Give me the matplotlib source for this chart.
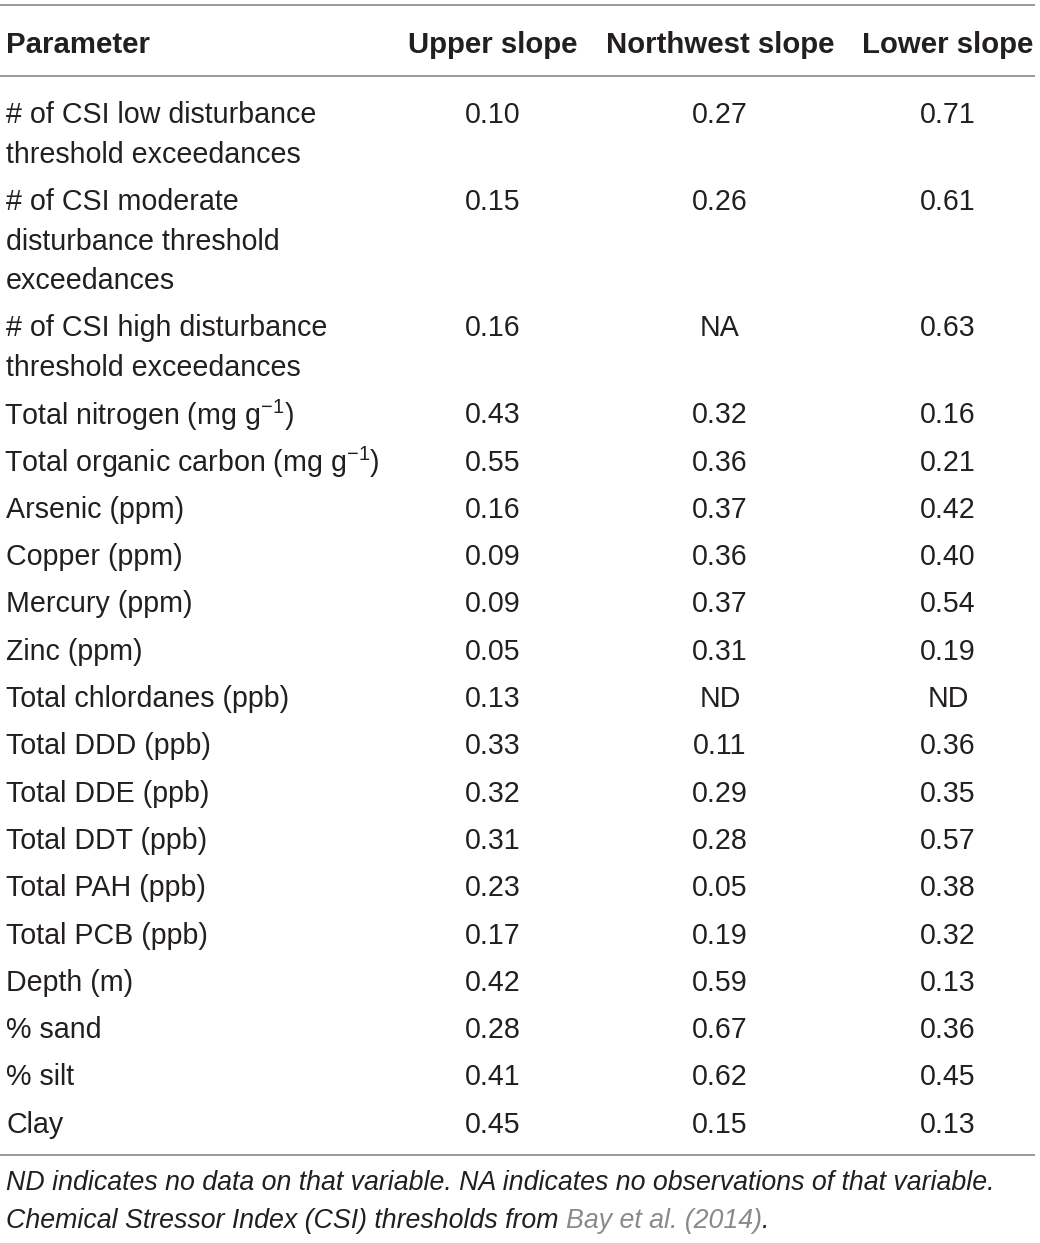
import matplotlib
matplotlib.use("Agg")
import matplotlib.pyplot as plt

plt.rcParams['font.family'] = ['Liberation Sans', 'DejaVu Sans']
plt.rcParams['mathtext.fontset'] = 'custom'
plt.rcParams['mathtext.rm'] = 'Liberation Sans'
plt.rcParams['mathtext.it'] = 'Liberation Sans:italic'

columns = ["Parameter", "Upper slope", "Northwest slope", "Lower slope"]

parameters = [
    ["# of CSI low disturbance", "threshold exceedances"],
    ["# of CSI moderate", "disturbance threshold", "exceedances"],
    ["# of CSI high disturbance", "threshold exceedances"],
    [r"Total nitrogen (mg g$^{-1}$)"],
    [r"Total organic carbon (mg g$^{-1}$)"],
    ["Arsenic (ppm)"],
    ["Copper (ppm)"],
    ["Mercury (ppm)"],
    ["Zinc (ppm)"],
    ["Total chlordanes (ppb)"],
    ["Total DDD (ppb)"],
    ["Total DDE (ppb)"],
    ["Total DDT (ppb)"],
    ["Total PAH (ppb)"],
    ["Total PCB (ppb)"],
    ["Depth (m)"],
    ["% sand"],
    ["% silt"],
    ["Clay"],
]

upper_slope = ["0.10", "0.15", "0.16", "0.43", "0.55", "0.16", "0.09", "0.09", "0.05",
               "0.13", "0.33", "0.32", "0.31", "0.23", "0.17", "0.42", "0.28", "0.41", "0.45"]
northwest_slope = ["0.27", "0.26", "NA", "0.32", "0.36", "0.37", "0.36", "0.37", "0.31",
                   "ND", "0.11", "0.29", "0.28", "0.05", "0.19", "0.59", "0.67", "0.62", "0.15"]
lower_slope = ["0.71", "0.61", "0.63", "0.16", "0.21", "0.42", "0.40", "0.54", "0.19",
               "ND", "0.36", "0.35", "0.57", "0.38", "0.32", "0.13", "0.36", "0.45", "0.13"]

footnote_1 = "ND indicates no data on that variable. NA indicates no observations of that variable."
footnote_2 = "Chemical Stressor Index (CSI) thresholds from "
footnote_ref = "Bay et al. (2014)"
footnote_end = "."

W, H = 1040, 1243
fig = plt.figure(figsize=(W / 100, H / 100), dpi=100)
ax = fig.add_axes([0, 0, 1, 1])
ax.set_xlim(0, W)
ax.set_ylim(H, 0)
ax.axis("off")

txt = "#231f20"
rule = "#9a9a9a"
fs = 20.6
fs_head = 21.2
fs_note = 19.3
col_x = [6, 493, 720, 948]
line_gap = 39.6
row_gap = 47.3
dy = 3  # baseline nudge

# rules
for y in (5, 76, 1155):
    ax.plot([0, 1035], [y, y], color=rule, lw=1.4, solid_capstyle="butt")

# header
head_y = 42 + dy
ax.text(col_x[0], head_y, columns[0], ha="left", va="center", fontsize=fs_head,
        fontweight="bold", color=txt)
for x, name in zip(col_x[1:], columns[1:]):
    ax.text(x, head_y, name, ha="center", va="center", fontsize=fs_head,
            fontweight="bold", color=txt)

# body
y = 112 + dy
for i, lines in enumerate(parameters):
    for k, line in enumerate(lines):
        x0 = col_x[0] - 2 if "$" in line else col_x[0]
        ax.text(x0, y + k * line_gap, line, ha="left", va="center",
                fontsize=fs, color=txt)
    for x, vals in zip(col_x[1:], (upper_slope, northwest_slope, lower_slope)):
        ax.text(x, y, vals[i], ha="center", va="center", fontsize=fs, color=txt)
    y += (len(lines) - 1) * line_gap + row_gap

# footnote
ax.text(col_x[0], 1180 + dy, footnote_1, ha="left", va="center", fontsize=fs_note,
        style="italic", color=txt)
t = ax.text(col_x[0], 1218 + dy, footnote_2, ha="left", va="center", fontsize=fs_note,
            style="italic", color=txt)
fig.canvas.draw()
inv = ax.transData.inverted()
bb = t.get_window_extent()
x_end = inv.transform((bb.x1, bb.y0))[0]
t2 = ax.text(x_end, 1218 + dy, footnote_ref, ha="left", va="center", fontsize=fs_note,
             style="italic", color="#8a8a8a")
fig.canvas.draw()
bb2 = t2.get_window_extent()
x_end2 = inv.transform((bb2.x1, bb2.y0))[0]
ax.text(x_end2, 1218 + dy, footnote_end, ha="left", va="center", fontsize=fs_note,
        style="italic", color=txt)

fig.savefig("out.png", dpi=100, facecolor="white")
